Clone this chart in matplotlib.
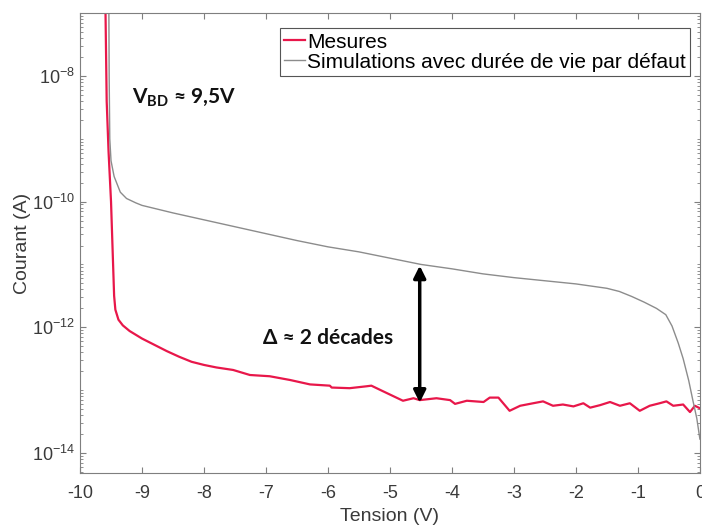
import numpy as np
import matplotlib
matplotlib.use('Agg')
import matplotlib.pyplot as plt
from matplotlib.ticker import LogLocator, NullFormatter

plt.rcParams['font.family'] = ['Liberation Sans', 'DejaVu Sans']
plt.rcParams['axes.unicode_minus'] = False
plt.rcParams['mathtext.fontset'] = 'custom'
plt.rcParams['mathtext.rm'] = 'Lato'
plt.rcParams['mathtext.bf'] = 'Lato:bold'

# measured current (log10 of A) vs voltage
mes_v = [-9.59, -9.57, -9.54, -9.50, -9.47, -9.45, -9.43, -9.38, -9.31, -9.20,
         -9.10, -9.00, -8.80, -8.60, -8.40, -8.20, -8.00, -7.80, -7.53, -7.26,
         -6.94, -6.61, -6.29, -5.97, -5.94, -5.65, -5.38, -5.30, -5.11, -4.79,
         -4.62, -4.52, -4.25, -4.03, -3.95, -3.76, -3.49, -3.39, -3.25, -3.07,
         -2.90, -2.69, -2.53, -2.37, -2.21, -2.04, -1.88, -1.77, -1.61, -1.45,
         -1.29, -1.13, -0.97, -0.81, -0.65, -0.54, -0.43, -0.27, -0.16, -0.08, 0.0]
mes_log = [-6.9, -8.4, -9.2, -10.0, -10.9, -11.5, -11.72, -11.88, -11.97, -12.06,
           -12.12, -12.18, -12.28, -12.38, -12.47, -12.55, -12.60, -12.64, -12.68, -12.76,
           -12.78, -12.84, -12.91, -12.93, -12.96, -12.97, -12.94, -12.93, -13.02, -13.17,
           -13.13, -13.16, -13.13, -13.16, -13.22, -13.17, -13.19, -13.12, -13.12, -13.33,
           -13.25, -13.21, -13.18, -13.25, -13.23, -13.26, -13.21, -13.28, -13.24, -13.19,
           -13.25, -13.21, -13.33, -13.25, -13.21, -13.18, -13.25, -13.23, -13.35, -13.25, -13.29]

# simulation with default lifetime
sim_v = [-9.535, -9.53, -9.52, -9.50, -9.45, -9.35, -9.25, -9.10, -9.00, -8.50,
         -8.00, -7.50, -7.00, -6.50, -6.00, -5.50, -5.00, -4.50, -4.00, -3.50,
         -3.00, -2.50, -2.00, -1.50, -1.30, -1.10, -0.90, -0.70, -0.55, -0.45,
         -0.35, -0.27, -0.18, -0.11, -0.05, 0.0]
sim_log = [-6.9, -8.0, -9.0, -9.35, -9.6, -9.85, -9.95, -10.02, -10.06, -10.18,
           -10.29, -10.40, -10.51, -10.62, -10.72, -10.80, -10.90, -11.00, -11.07, -11.15,
           -11.21, -11.26, -11.31, -11.38, -11.43, -11.51, -11.60, -11.70, -11.80, -11.98,
           -12.25, -12.50, -12.85, -13.18, -13.45, -13.78]

mes_i = 10.0 ** np.array(mes_log)
sim_i = 10.0 ** np.array(sim_log)

fig = plt.figure(figsize=(7.02, 5.27), dpi=100)
ax = fig.add_axes([0.114, 0.1025, 0.883, 0.8725])

ax.semilogy(mes_v, mes_i, color='#e8174a', lw=1.6, label='Mesures')
ax.semilogy(sim_v, sim_i, color='#8c8c8c', lw=1.0,
            label='Simulations avec durée de vie par défaut')

ax.set_xlim(-10, 0)
ax.set_ylim(10 ** -14.32, 1e-7)
ax.set_xticks(range(-10, 1))
ax.yaxis.set_major_locator(LogLocator(base=100))
ax.yaxis.set_minor_locator(LogLocator(base=10, subs=np.arange(1, 10), numticks=30))
ax.yaxis.set_minor_formatter(NullFormatter())

for s in ax.spines.values():
    s.set_color('#7f7f7f')
ax.tick_params(which='both', direction='in', top=True, right=True,
               color='#7f7f7f', labelcolor='#3a3a3a', labelsize=13)
ax.tick_params(which='minor', length=2.5)
ax.tick_params(which='major', length=4)
ax.tick_params(axis='x', pad=9)

ax.set_xlabel('Tension (V)', fontsize=14, color='#3a3a3a', labelpad=4)
ax.set_ylabel('Courant (A)', fontsize=14, color='#3a3a3a', labelpad=1)

leg = ax.legend(loc='upper right', bbox_to_anchor=(0.984, 0.967), fontsize=15,
                handlelength=1.0, handletextpad=0.1, borderpad=0.2,
                borderaxespad=0, labelspacing=0.05, fancybox=False, framealpha=1)
leg.get_frame().set_edgecolor('#555555')
leg.get_frame().set_linewidth(0.8)

ax.text(-9.16, 10 ** -8.43, r'$\mathbf{V_{BD}}$' + ' ≈ 9,5V', fontsize=15,
        family='Lato', fontweight='bold', va='baseline', color='#111111')
ax.text(-7.05, 10 ** -12.26, 'Δ ≈ 2 décades', fontsize=15,
        family='Lato', fontweight='bold', va='baseline', color='#111111')

ax.annotate('', xy=(-4.52, 10 ** -11.02), xytext=(-4.52, 10 ** -13.2),
            arrowprops=dict(arrowstyle='<|-|>', color='black', lw=2.5,
                            mutation_scale=18, shrinkA=0, shrinkB=0))

fig.savefig('out.png', dpi=100)
